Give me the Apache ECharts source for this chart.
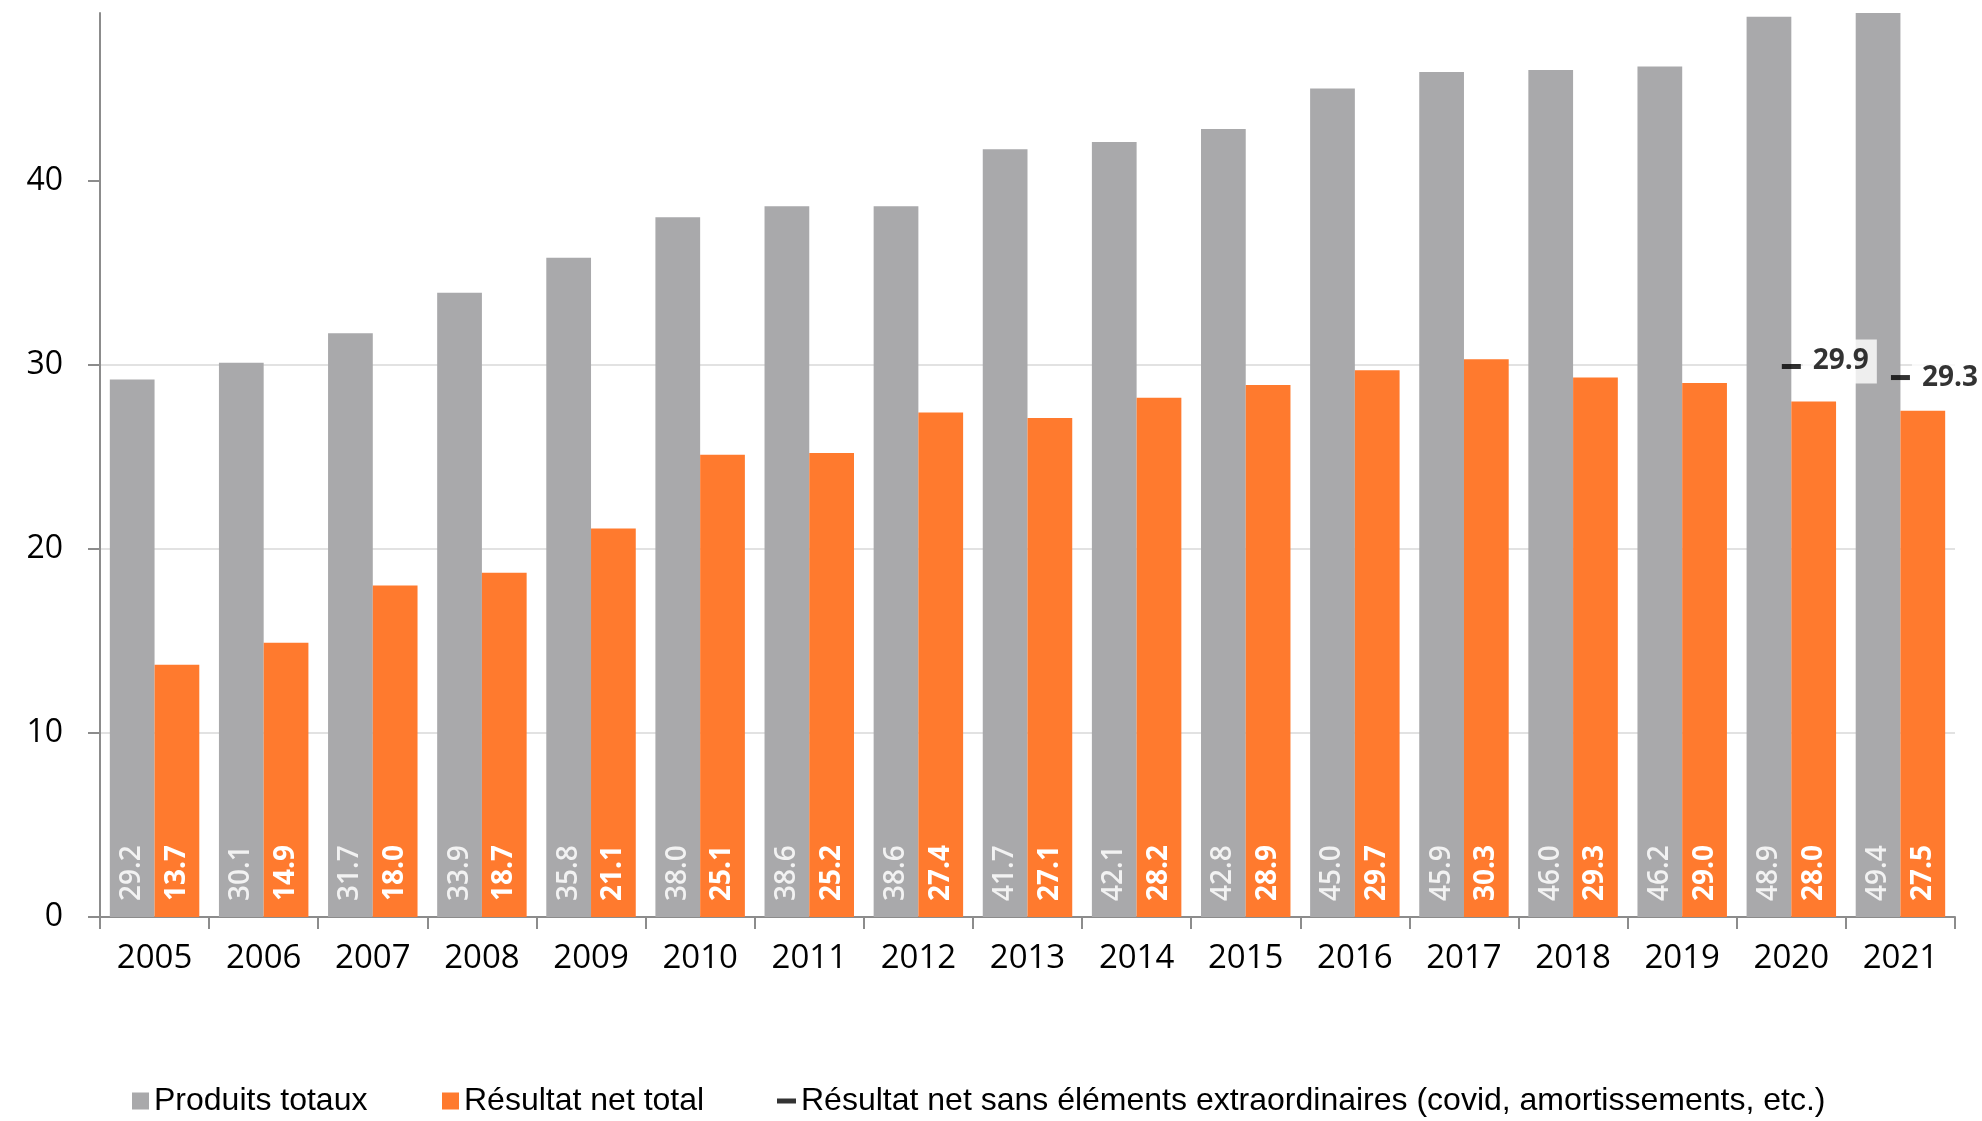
<!DOCTYPE html>
<html>
<head>
<meta charset="utf-8">
<script src="https://cdn.jsdelivr.net/npm/echarts@6/dist/echarts.min.js"></script>
<style>
  html, body { margin: 0; padding: 0; background: #ffffff; }
  #chart { width: 1982px; height: 1121px; }
</style>
</head>
<body>
<div id="chart"></div>
<script>
// Années
const years = ['2005', '2006', '2007', '2008', '2009', '2010', '2011', '2012', '2013',
               '2014', '2015', '2016', '2017', '2018', '2019', '2020', '2021'];

// Produits totaux
const produitsTotaux = [29.2, 30.1, 31.7, 33.9, 35.8, 38.0, 38.6, 38.6, 41.7,
                        42.1, 42.8, 45.0, 45.9, 46.0, 46.2, 48.9, 49.4];

// Résultat net total
const resultatNet = [13.7, 14.9, 18.0, 18.7, 21.1, 25.1, 25.2, 27.4, 27.1,
                     28.2, 28.9, 29.7, 30.3, 29.3, 29.0, 28.0, 27.5];

// Résultat net sans éléments extraordinaires (uniquement 2020 et 2021)
const resultatHorsExtra = [null, null, null, null, null, null, null, null, null,
                           null, null, null, null, null, null, 29.9, 29.3];

// Graduations de l'axe des valeurs
const yTickValues = [0, 10, 20, 30, 40];

const seriesNames = [
  'Produits totaux',
  'Résultat net total',
  'Résultat net sans éléments extraordinaires (covid, amortissements, etc.)'
];

const GREY = '#A9A9AB';
const ORANGE = '#FF7A2E';
const AXIS = '#8C8C8C';
const NUM_FONT = "'Open Sans', 'DejaVu Sans', sans-serif";
const LEGEND_FONT = "'Liberation Sans', Arial, sans-serif";

const fmt = p => (p.value == null ? '' : Number(p.value).toFixed(1));

// l'étiquette 2020 est légèrement remontée pour ne pas chevaucher celle de 2021
const horsExtraItems = resultatHorsExtra.map((v, i) =>
  (v != null && i === years.indexOf('2020')) ? { value: v, label: { offset: [0, -5] } } : v);

const legendBase = {
  top: 1080,
  orient: 'horizontal',
  selectedMode: false,
  itemWidth: 17,
  itemHeight: 17,
  icon: 'rect',
  textStyle: { fontFamily: LEGEND_FONT, fontSize: 32, color: '#000' }
};

const chart = echarts.init(document.getElementById('chart'), null, { renderer: 'canvas' });

chart.setOption({
  animation: false,
  backgroundColor: '#ffffff',
  grid: { left: 100, right: 27, top: 13, bottom: 204, containLabel: false },
  legend: [
    Object.assign({}, legendBase, { left: 127, data: [seriesNames[0]] }),
    Object.assign({}, legendBase, { left: 437, data: [seriesNames[1]] }),
    Object.assign({}, legendBase, { left: 772, itemWidth: 19, itemHeight: 5, data: [seriesNames[2]] })
  ],
  xAxis: {
    type: 'category',
    data: years,
    boundaryGap: true,
    axisLine: { show: true, lineStyle: { color: AXIS, width: 2 } },
    axisTick: { show: true, interval: 0, length: 12, lineStyle: { color: AXIS, width: 2 } },
    axisLabel: { margin: 25, fontSize: 33, color: '#000', fontFamily: NUM_FONT, interval: 0 },
    splitLine: { show: false }
  },
  yAxis: {
    type: 'value',
    min: 0,
    max: 49.1,
    interval: 10,
    axisLine: { show: true, lineStyle: { color: AXIS, width: 2 } },
    axisTick: { show: true, length: 12, lineStyle: { color: AXIS, width: 2 }, customValues: yTickValues },
    axisLabel: { margin: 37, fontSize: 32, color: '#000', fontFamily: NUM_FONT, customValues: yTickValues },
    splitLine: { show: true, showMaxLine: false, lineStyle: { color: '#D9D9D9', width: 1.5 } }
  },
  series: [
    {
      name: seriesNames[0],
      type: 'bar',
      data: produitsTotaux,
      barGap: '0%',
      barCategoryGap: '18%',
      clip: true,
      itemStyle: { color: GREY },
      label: {
        show: true,
        position: 'insideBottom',
        rotate: 90,
        align: 'left',
        verticalAlign: 'middle',
        distance: 16,
        color: '#F2F2F2',
        fontSize: 28,
        fontWeight: 600,
        fontFamily: NUM_FONT,
        formatter: fmt
      }
    },
    {
      name: seriesNames[1],
      type: 'bar',
      data: resultatNet,
      clip: true,
      itemStyle: { color: ORANGE },
      label: {
        show: true,
        position: 'insideBottom',
        rotate: 90,
        align: 'left',
        verticalAlign: 'middle',
        distance: 16,
        color: '#FFFFFF',
        fontSize: 28,
        fontWeight: 'bold',
        fontFamily: NUM_FONT,
        formatter: fmt
      }
    },
    {
      name: seriesNames[2],
      type: 'scatter',
      data: horsExtraItems,
      symbol: 'rect',
      symbolSize: [19, 5],
      clip: false,
      z: 5,
      itemStyle: { color: '#000000' },
      label: {
        show: true,
        position: 'right',
        distance: 2,
        backgroundColor: '#ffffff',
        padding: [8, 8, 8, 10],
        color: '#000',
        fontSize: 28,
        fontWeight: 'bold',
        fontFamily: NUM_FONT,
        formatter: fmt
      }
    }
  ]
});
</script>
</body>
</html>
